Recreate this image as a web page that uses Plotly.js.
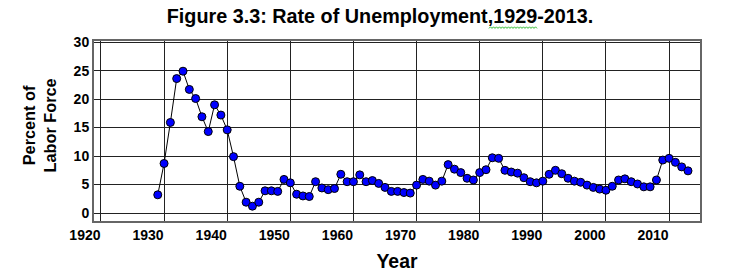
<!DOCTYPE html>
<html>
<head>
<meta charset="utf-8">
<script src="https://cdn.plot.ly/plotly-3.0.1.min.js"></script>
<style>html,body{margin:0;padding:0;background:#fff;}#chart{width:730px;height:275px;}</style>
</head>
<body>
<div id="chart"></div>
<script>
// Data
var years = [1929,1930,1931,1932,1933,1934,1935,1936,1937,1938,1939,1940,
  1941,1942,1943,1944,1945,1946,1947,1948,1949,1950,
  1951,1952,1953,1954,1955,1956,1957,1958,1959,1960,
  1961,1962,1963,1964,1965,1966,1967,1968,1969,1970,
  1971,1972,1973,1974,1975,1976,1977,1978,1979,1980,
  1981,1982,1983,1984,1985,1986,1987,1988,1989,1990,
  1991,1992,1993,1994,1995,1996,1997,1998,1999,2000,
  2001,2002,2003,2004,2005,2006,2007,2008,2009,2010,
  2011,2012,2013];
var unemploymentRate = [3.2,8.7,15.9,23.6,24.9,21.7,20.1,16.9,14.3,19.0,17.2,14.6,
  9.9,4.7,1.9,1.2,1.9,3.9,3.9,3.8,5.9,5.3,
  3.3,3.0,2.9,5.5,4.4,4.1,4.3,6.8,5.5,5.5,
  6.7,5.5,5.7,5.2,4.5,3.8,3.8,3.6,3.5,4.9,
  5.9,5.6,4.9,5.6,8.5,7.7,7.1,6.1,5.8,7.1,
  7.6,9.7,9.6,7.5,7.2,7.0,6.2,5.5,5.3,5.6,
  6.8,7.5,6.9,6.1,5.6,5.4,4.9,4.5,4.2,4.0,
  4.7,5.8,6.0,5.5,5.1,4.6,4.6,5.8,9.3,9.6,
  8.9,8.1,7.4];
var chartTitle = "Figure 3.3: Rate of Unemployment,1929-2013.";
var xTitle = "Year";
var yTitle = "Percent of<br>Labor Force";

var W = 730, H = 275;
var M = {l: 94, r: 30, t: 41, b: 54};
var FONT = "Arial, 'Liberation Sans', sans-serif";

function pxX(px){ return (px - M.l) / (W - M.l - M.r); }
function pxY(py){ return (H - M.b - py) / (H - M.t - M.b); }

// spell-check style squiggle under part of the title
var sq = "";
for (var i = 0, px = 489; px <= 538; px += 1.5, i++) {
  var py = 27.6 + (i % 2 ? -0.8 : 0.8);
  sq += (i === 0 ? "M " : " L ") + pxX(px).toFixed(5) + "," + pxY(py).toFixed(5);
}

var trace = {
  x: years,
  y: unemploymentRate,
  type: "scatter",
  mode: "lines+markers",
  line: {color: "#000", width: 1},
  marker: {color: "#0000ff", size: 8, line: {color: "#000", width: 1}},
  hoverinfo: "x+y"
};

var axisCommon = {
  showgrid: true,
  gridcolor: "#222",
  gridwidth: 1,
  showline: true,
  mirror: true,
  linecolor: "#666",
  linewidth: 2,
  ticks: "",
  zeroline: false,
  tickfont: {family: FONT, size: 14, color: "#000", weight: "bold"}
};

var layout = {
  width: W, height: H,
  margin: M,
  paper_bgcolor: "#fff",
  plot_bgcolor: "#fff",
  showlegend: false,
  title: {
    text: chartTitle,
    font: {family: FONT, size: 19.8, color: "#000", weight: "bold"},
    xref: "container", x: 380 / W, xanchor: "center",
    yref: "container", y: 1 - 9.5 / H, yanchor: "top"
  },
  xaxis: Object.assign({}, axisCommon, {
    range: [1918.9, 2014.9],
    tick0: 1920, dtick: 10,
    ticklabelshift: -16,
    title: {text: xTitle, font: {family: FONT, size: 19.4, color: "#000", weight: "bold"}, standoff: 13}
  }),
  yaxis: Object.assign({}, axisCommon, {
    range: [-1.4, 30.2],
    tick0: 0, dtick: 5
  }),
  annotations: [{
    text: yTitle,
    xref: "paper", yref: "paper",
    x: pxX(38.5), y: pxY(126),
    xanchor: "center", yanchor: "middle",
    textangle: -90, showarrow: false,
    font: {family: FONT, size: 16.3, color: "#000", weight: "bold"}
  }],
  shapes: [{
    type: "path", xref: "paper", yref: "paper", path: sq,
    line: {color: "#33bb33", width: 1}
  }]
};

Plotly.newPlot("chart", [trace], layout, {displayModeBar: false, staticPlot: true});
</script>
</body>
</html>
